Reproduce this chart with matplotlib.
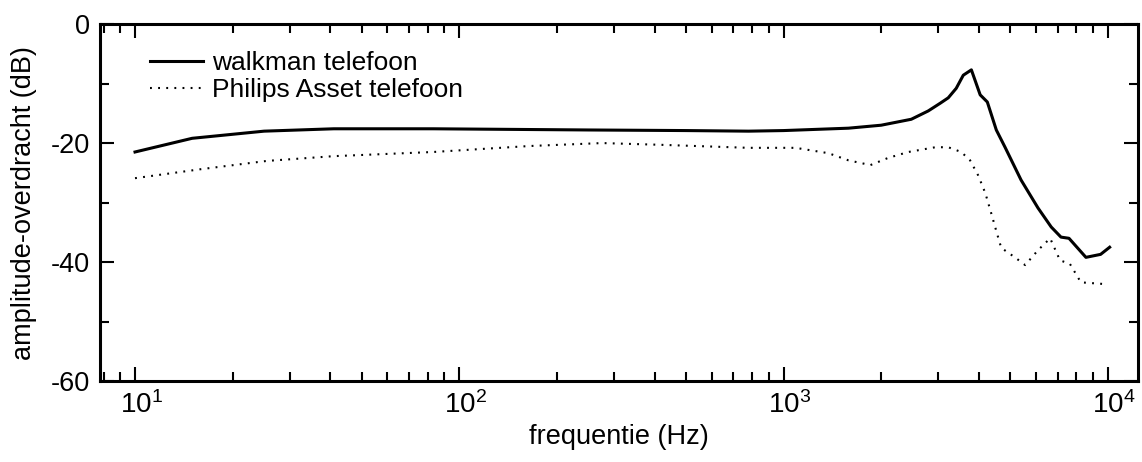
import numpy as np
import matplotlib
matplotlib.use("Agg")
import matplotlib.pyplot as plt
from matplotlib.ticker import FixedLocator, MultipleLocator, LogLocator, NullFormatter
from matplotlib.transforms import ScaledTranslation

plt.rcParams['font.family'] = ['Liberation Sans', 'DejaVu Sans']
plt.rcParams['axes.unicode_minus'] = False

# walkman telefoon (solid)
freq_walkman = [10, 15, 25, 41, 83, 250, 500, 780, 1000, 1585, 2000, 2477, 2794, 3043,
                3220, 3408, 3583, 3795, 4040, 4250, 4530, 4820, 5400, 6090, 6690,
                7170, 7590, 8560, 9500, 10130]
db_walkman = [-21.5, -19.2, -18.0, -17.6, -17.6, -17.8, -17.9, -18.0, -17.9, -17.5, -17.0,
              -16.0, -14.6, -13.3, -12.4, -10.8, -8.6, -7.7, -11.9, -13.1, -17.8,
              -20.7, -26.2, -30.9, -34.1, -35.8, -36.0, -39.2, -38.7, -37.5]

# Philips Asset telefoon (dotted)
freq_philips = [10, 15.9, 25.5, 41, 83, 164, 276, 422, 780, 1089, 1375, 1585, 1853,
                2100, 2425, 2938, 3220, 3532, 3760, 3980, 4190, 4370, 4520, 4690,
                5170, 5560, 6090, 6640, 7120, 7640, 8260, 9850]
db_philips = [-25.9, -24.4, -23.0, -22.2, -21.5, -20.5, -20.0, -20.3, -20.8, -20.8,
              -21.7, -22.9, -23.7, -22.5, -21.5, -20.7, -20.7, -21.5, -22.9, -25.4,
              -28.4, -31.8, -34.6, -37.6, -39.2, -40.5, -38.0, -36.0, -39.7, -40.3,
              -43.4, -43.7]

x_ticks = [10, 100, 1000, 10000]
x_ticklabels = [r'$\mathregular{10^{1}}$', r'$\mathregular{10^{2}}$',
                r'$\mathregular{10^{3}}$', r'$\mathregular{10^{4}}$']

fig = plt.figure(figsize=(11.42, 4.62), dpi=100)
ax = fig.add_axes([0.0876, 0.175, 0.909, 0.773])

ax.plot(freq_walkman, db_walkman, color='black', lw=2.2, label='walkman telefoon')
ax.plot(freq_philips, db_philips, color='black', lw=1.5, linestyle=(0, (0.9, 3.0)),
        label='Philips Asset telefoon')

ax.set_xscale('log')
ax.set_xlim(7.8, 12400)
ax.set_ylim(-60, 0)

ax.xaxis.set_major_locator(FixedLocator(x_ticks))
ax.set_xticklabels(x_ticklabels, fontsize=20)
ax.xaxis.set_minor_locator(LogLocator(base=10, subs=np.arange(2, 10)))
ax.xaxis.set_minor_formatter(NullFormatter())
ax.yaxis.set_major_locator(MultipleLocator(20))
ax.yaxis.set_minor_locator(MultipleLocator(10))
ax.tick_params(axis='y', labelsize=19.5, pad=7)

ax.tick_params(which='both', direction='in', top=True, right=True, width=1.5)
ax.tick_params(which='major', length=10)
ax.tick_params(which='minor', length=6.5)
ax.tick_params(axis='x', which='major', pad=7)
for sp in ax.spines.values():
    sp.set_linewidth(2.2)

# keep the "10" centred on the tick, exponent hanging to the right
shift = ScaledTranslation(0.06, 0, fig.dpi_scale_trans)
for lbl in ax.get_xticklabels():
    lbl.set_transform(lbl.get_transform() + shift)

ax.set_xlabel('frequentie (Hz)', fontsize=19.5, labelpad=4)
ax.set_ylabel('amplitude-overdracht (dB)', fontsize=19.5, labelpad=10)

ax.legend(loc='upper left', frameon=False, fontsize=19, handlelength=2.0,
          handletextpad=0.35, labelspacing=0.12, borderpad=0, borderaxespad=0,
          bbox_to_anchor=(0.048, 0.925))

fig.savefig('out.png', dpi=100)
